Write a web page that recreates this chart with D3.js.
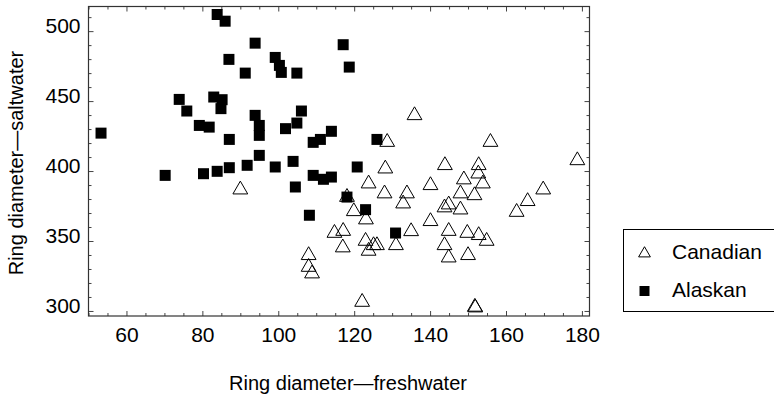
<!DOCTYPE html>
<html>
<head>
<meta charset="utf-8">
<script src="https://d3js.org/d3.v7.min.js"></script>
<style>
  body { margin: 0; background: #fff; }
  svg { display: block; }
  text { font-family: "Liberation Sans", Arial, Helvetica, sans-serif; fill: #000; }
</style>
</head>
<body>
<div id="chart"></div>
<script>
// size of picture
const width = 774;
const height = 401;

// data: ring diameters (freshwater, saltwater)
const canadianFresh = [90.0, 108.0, 108.0, 108.9, 114.8, 117.1, 117.0, 118.1, 119.9, 122.1,
  123.0, 123.1, 123.8, 123.8, 125.1, 126.0, 128.0, 128.2, 128.7, 131.0,
  132.9, 133.9, 135.0, 135.9, 140.1, 140.1, 143.9, 143.8, 143.8, 144.9,
  144.9, 144.9, 148.0, 148.0, 148.9, 149.8, 150.0, 151.7, 151.8, 151.9,
  152.7, 152.8, 152.8, 153.9, 154.9, 155.9, 162.8, 165.7, 169.8, 178.8];
const canadianSalt = [386.7, 339.8, 331.4, 326.7, 355.7, 357.1, 345.3, 381.4, 371.2, 306.4,
  350.0, 365.3, 391.0, 342.9, 346.9, 346.9, 383.9, 401.7, 420.7, 346.9,
  376.7, 383.9, 356.9, 439.8, 389.8, 364.1, 404.1, 373.9, 346.9, 376.0,
  357.1, 338.1, 383.9, 372.4, 393.9, 355.7, 339.8, 382.6, 302.9, 302.4,
  398.1, 404.1, 354.1, 391.0, 350.0, 420.7, 370.7, 378.4, 386.7, 407.6];

const alaskanFresh = [53.3, 70.2, 73.9, 75.9, 79.2, 80.3, 81.8, 83.0, 83.9, 83.9,
  85.2, 84.9, 86.0, 87.0, 87.1, 87.1, 91.3, 91.8, 93.9, 93.9,
  95.0, 95.0, 95.0, 99.2, 99.2, 100.3, 100.8, 101.9, 103.9, 104.9,
  104.9, 104.5, 106.1, 108.2, 109.2, 111.1, 114.0, 109.2, 111.9, 114.0,
  117.1, 118.7, 118.1, 120.8, 123.0, 126.0, 130.9];
const alaskanSalt = [427.1, 396.9, 451.2, 442.9, 432.6, 398.1, 431.4, 452.9, 511.9, 399.8,
  451.0, 444.6, 507.1, 479.8, 422.6, 402.4, 470.0, 404.1, 491.4, 439.8,
  432.6, 425.5, 411.2, 402.9, 481.2, 475.5, 470.5, 430.3, 406.9, 470.0,
  434.3, 388.6, 442.9, 368.4, 420.5, 422.6, 428.4, 396.9, 394.1, 395.7,
  490.3, 474.3, 381.4, 402.9, 372.4, 422.6, 355.7];

const xTickLabels = [60, 80, 100, 120, 140, 160, 180];
const yTickLabels = [300, 350, 400, 450, 500];
const legendNames = ["Canadian", "Alaskan"];

const canadian = canadianFresh.map((v, i) => ({x: v, y: canadianSalt[i]}));
const alaskan = alaskanFresh.map((v, i) => ({x: v, y: alaskanSalt[i]}));

// plot frame
const plotLeft = 88.5, plotRight = 589.5, plotTop = 6.5, plotBottom = 316;

const x = d3.scaleLinear().domain([50, 182]).range([plotLeft, plotRight]);
const y = d3.scaleLinear().domain([296.4, 517.6]).range([plotBottom, plotTop]);

const svg = d3.select("#chart")
  .append("svg")
  .attr("width", width)
  .attr("height", height);

// minor ticks, all four sides
const xMinor = d3.range(50, 183, 5).filter(d => !xTickLabels.includes(d));
const yMinor = d3.range(300, 518, 10).filter(d => !yTickLabels.includes(d));

function styleAxis(g) {
  g.select(".domain").remove();
  g.selectAll(".tick line").attr("stroke", "#444").attr("stroke-width", 1);
}

svg.append("g").attr("transform", `translate(0,${plotBottom})`)
  .call(d3.axisBottom(x).tickValues(xMinor).tickSize(-3).tickFormat(""))
  .call(styleAxis);
svg.append("g").attr("transform", `translate(0,${plotTop})`)
  .call(d3.axisTop(x).tickValues(xMinor).tickSize(-3).tickFormat(""))
  .call(styleAxis);
svg.append("g").attr("transform", `translate(0,${plotTop})`)
  .call(d3.axisTop(x).tickValues(xTickLabels).tickSize(-5).tickFormat(""))
  .call(styleAxis);
svg.append("g").attr("transform", `translate(${plotLeft},0)`)
  .call(d3.axisLeft(y).tickValues(yMinor).tickSize(-3).tickFormat(""))
  .call(styleAxis);
svg.append("g").attr("transform", `translate(${plotRight},0)`)
  .call(d3.axisRight(y).tickValues(yMinor).tickSize(-3).tickFormat(""))
  .call(styleAxis);
svg.append("g").attr("transform", `translate(${plotRight},0)`)
  .call(d3.axisRight(y).tickValues(yTickLabels).tickSize(-5).tickFormat(""))
  .call(styleAxis);

// labelled axes
const xAxis = svg.append("g").attr("transform", `translate(0,${plotBottom})`)
  .call(d3.axisBottom(x).tickValues(xTickLabels).tickSize(-5).tickPadding(11))
  .call(styleAxis);
xAxis.selectAll("text").attr("font-size", 21).attr("font-family", null);

const yAxis = svg.append("g").attr("transform", `translate(${plotLeft},0)`)
  .call(d3.axisLeft(y).tickValues(yTickLabels).tickSize(-5).tickPadding(8))
  .call(styleAxis);
yAxis.selectAll("text").attr("font-size", 21).attr("font-family", null).attr("dy", "0.05em");

// frame
svg.append("rect")
  .attr("x", plotLeft).attr("y", plotTop)
  .attr("width", plotRight - plotLeft).attr("height", plotBottom - plotTop)
  .attr("fill", "none").attr("stroke", "#333").attr("stroke-width", 1.2);

// points
const tri = d3.symbol().type(d3.symbolTriangle).size(95);
const sq = d3.symbol().type(d3.symbolSquare).size(121);

svg.append("g").selectAll("path")
  .data(canadian)
  .enter().append("path")
    .attr("d", tri)
    .attr("transform", d => `translate(${x(d.x)},${y(d.y)})`)
    .attr("fill", "none")
    .attr("stroke", "#000")
    .attr("stroke-width", 1);

svg.append("g").selectAll("path")
  .data(alaskan)
  .enter().append("path")
    .attr("d", sq)
    .attr("transform", d => `translate(${x(d.x)},${y(d.y)})`)
    .attr("fill", "#000");

// axis titles
svg.append("text")
  .attr("x", 348).attr("y", 390)
  .attr("text-anchor", "middle")
  .attr("font-size", 20)
  .text("Ring diameter\u2014freshwater");

svg.append("text")
  .attr("transform", "translate(23,163) rotate(-90)")
  .attr("text-anchor", "middle")
  .attr("font-size", 20)
  .text("Ring diameter\u2014saltwater");

// legend
const legend = svg.append("g");
legend.append("rect")
  .attr("x", 623.5).attr("y", 229.5)
  .attr("width", 170).attr("height", 82)
  .attr("fill", "#fff").attr("stroke", "#000").attr("stroke-width", 1);

legend.append("path")
  .attr("d", d3.symbol().type(d3.symbolTriangle).size(60))
  .attr("transform", "translate(644.5,253.5)")
  .attr("fill", "none").attr("stroke", "#000");
legend.append("path")
  .attr("d", d3.symbol().type(d3.symbolSquare).size(100))
  .attr("transform", "translate(644.5,291)")
  .attr("fill", "#000");

legend.selectAll("text.lg")
  .data(legendNames)
  .enter().append("text")
    .attr("class", "lg")
    .attr("x", 672)
    .attr("y", (d, i) => 259 + i * 38)
    .attr("font-size", 21)
    .text(d => d);
</script>
</body>
</html>
